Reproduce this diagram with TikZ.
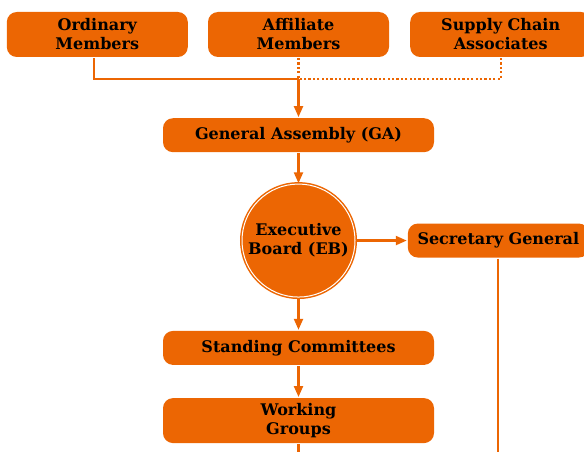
\documentclass[tikz,border=0pt]{standalone}
\usepackage{fontspec}
\setmainfont{DejaVu Serif}
\usetikzlibrary{arrows.meta,positioning,calc}
\definecolor{govorange}{HTML}{EC6603}

\begin{document}
\begin{tikzpicture}[x=1pt,y=-1pt,->,>={Triangle[length=11pt,width=9pt]},
				line width=2.2pt,draw=govorange]
				\tikzstyle{box}=[rectangle,rounded corners=10pt,fill=govorange,draw=none,
				text=black,font=\fontsize{16}{19}\selectfont\bfseries,align=center,
				minimum width=181pt,minimum height=45pt,inner sep=0pt]
				\tikzstyle{wide}=[box,minimum width=271pt,minimum height=34pt]
				\tikzstyle{link}=[govorange,line width=2.2pt]
				\tikzstyle{dots}=[link,-,dash pattern=on 2.2pt off 2.2pt]
				\useasboundingbox (0,0) rectangle (584,452);
				\node[box]   (aff) at (298.5,34.5) {Affiliate\\Members};
				\node[box]   (ord) [left = 18pt of aff]  {Ordinary\\Members};
				\node[box]   (sup) [right = 19pt of aff] {Supply Chain\\Associates};
				\node[wide]  (ga)  [below = 59pt of aff] {General Assembly (GA)};
				\node[circle,fill=govorange,draw=govorange,line width=1.5pt,
				double=white,double distance=1pt,minimum size=113pt,inner sep=0pt,
				font=\fontsize{16}{19}\selectfont\bfseries,align=center]
				(eb) [below = 30pt of ga] {Executive\\Board (EB)};
				\node[wide]  (sg)  [right = 51pt of eb,minimum width=181pt] {Secretary General};
				\node[wide]  (sc)  [below = 32pt of eb] {Standing Committees};
				\node[box,minimum width=271pt] (wg) [below = 31pt of sc] {Working\\Groups};
				\coordinate (join) at ($(aff.south)+(0,21)$);
				\coordinate (sgend) at (sg.south |- 0,452);
				\coordinate (wgend) at (wg.south |- 0,452);
				
				\draw[link,-] (ord.south) ++(-3.5,0) |- (join);
				\draw[dots] (aff.south) -- (join);
				\draw[dots] (sup.south) |- (join);
				\draw[link] (join) -- (ga.north);
				\draw[link] (ga) -- (eb);
				\draw[link] (eb) -- (sg);
				\draw[link] (eb) -- (sc);
				\draw[link] (sc) -- (wg);
				\draw[link,-] (sg.south) -- (sgend);
				\draw[link,-] (wg.south) -- (wgend);
			\end{tikzpicture}
\end{document}
